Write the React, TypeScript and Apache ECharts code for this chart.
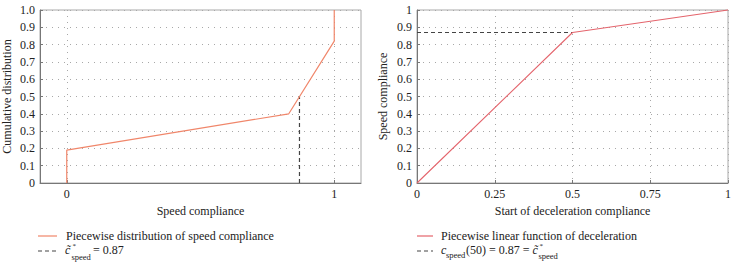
import React, { useEffect, useRef } from "react";
import * as echarts from "echarts";

// ---- data ----
const leftCurve: [number, number][] = [
  [0, 0],
  [0, 0.19],
  [0.83, 0.4],
  [1, 0.82],
  [1, 1],
];
const leftThreshold: [number, number][] = [
  [0.87, 0],
  [0.87, 0.5],
];
const leftXTicks = [0, 1];

const rightCurve: [number, number][] = [
  [0, 0],
  [0.5, 0.87],
  [1, 1],
];
const rightThreshold: [number, number][] = [
  [0, 0.87],
  [0.5, 0.87],
];

const leftLegend1 = "Piecewise distribution of speed compliance";
const leftLegend2 = "= 0.87";
const rightLegend1 = "Piecewise linear function of deceleration";
const rightLegend2 = "(50) = 0.87 = ";

const FONT = "'Liberation Serif', 'Times New Roman', serif";
const LEFT_COLOR = "#f0866a";
const RIGHT_COLOR = "#e4646c";
const DASH_COLOR = "#444";
const GRID_COLOR = "#a8a8a8";
const AXIS_COLOR = "#777";

export default function App() {
  const ref = useRef<HTMLDivElement>(null);

  useEffect(() => {
    if (!ref.current) return;
    const chart = echarts.init(ref.current, undefined, { renderer: "svg" });

    const labelStyle = { color: "#222", fontFamily: FONT, fontSize: 12 };
    const nameStyle = { color: "#222", fontFamily: FONT, fontSize: 12 };
    const split = { show: true, lineStyle: { type: [1, 5] as any, color: GRID_COLOR, width: 1 } };
    const axisLine = { show: true, onZero: false, lineStyle: { color: AXIS_COLOR, width: 1 } };
    const tick = { show: true, inside: true, length: 3, lineStyle: { color: AXIS_COLOR } };

    const txt = (x: number, y: number, text: string, size = 12, italic = false) => ({
      type: "text",
      x,
      y,
      style: {
        text,
        fill: "#222",
        font: `${italic ? "italic " : ""}${size}px ${FONT}`,
        verticalAlign: "middle",
        align: "left",
      },
    });

    const option: any = {
      animation: false,
      grid: [
        { left: 38, top: 10, width: 323, height: 173, show: true, borderColor: GRID_COLOR, borderWidth: 1, backgroundColor: "transparent" },
        { left: 417, top: 10, width: 314, height: 173, show: true, borderColor: GRID_COLOR, borderWidth: 1, backgroundColor: "transparent" },
      ],
      xAxis: [
        {
          gridIndex: 0,
          type: "value",
          min: -0.1,
          max: 1.1,
          name: "Speed compliance",
          nameLocation: "middle",
          nameGap: 21,
          nameTextStyle: nameStyle,
          axisLine,
          axisTick: { ...tick, customValues: leftXTicks },
          axisLabel: { ...labelStyle, margin: 5, customValues: leftXTicks, formatter: (v: number) => String(v) },
          splitLine: split,
        },
        {
          gridIndex: 1,
          type: "value",
          min: 0,
          max: 1,
          interval: 0.25,
          name: "Start of deceleration compliance",
          nameLocation: "middle",
          nameGap: 21,
          nameTextStyle: nameStyle,
          axisLine,
          axisTick: tick,
          axisLabel: { ...labelStyle, margin: 5 },
          splitLine: split,
        },
      ],
      yAxis: [
        {
          gridIndex: 0,
          type: "value",
          min: 0,
          max: 1,
          interval: 0.1,
          name: "Cumulative distribution",
          nameLocation: "middle",
          nameGap: 27,
          nameTextStyle: nameStyle,
          axisLine,
          axisTick: tick,
          axisLabel: {
            ...labelStyle,
            margin: 5,
            formatter: (v: number) => (Math.abs(v) < 1e-9 ? "0" : v.toFixed(1)),
          },
          splitLine: split,
        },
        {
          gridIndex: 1,
          type: "value",
          min: 0,
          max: 1,
          interval: 0.1,
          name: "Speed compliance",
          nameLocation: "middle",
          nameGap: 28,
          nameTextStyle: nameStyle,
          axisLine,
          axisTick: tick,
          axisLabel: {
            ...labelStyle,
            margin: 5,
            formatter: (v: number) =>
              Math.abs(v) < 1e-9 ? "0" : Math.abs(v - 1) < 1e-9 ? "1" : v.toFixed(1),
          },
          splitLine: split,
        },
      ],
      series: [
        {
          type: "line",
          xAxisIndex: 0,
          yAxisIndex: 0,
          data: leftCurve,
          showSymbol: false,
          lineStyle: { color: LEFT_COLOR, width: 1.2 },
          clip: false,
          z: 3,
        },
        {
          type: "line",
          xAxisIndex: 0,
          yAxisIndex: 0,
          data: leftThreshold,
          showSymbol: false,
          lineStyle: { color: DASH_COLOR, width: 1.2, type: [4, 3] },
          z: 2,
        },
        {
          type: "line",
          xAxisIndex: 1,
          yAxisIndex: 1,
          data: rightCurve,
          showSymbol: false,
          lineStyle: { color: RIGHT_COLOR, width: 1.1 },
          clip: false,
          z: 3,
        },
        {
          type: "line",
          xAxisIndex: 1,
          yAxisIndex: 1,
          data: rightThreshold,
          showSymbol: false,
          lineStyle: { color: DASH_COLOR, width: 1.2, type: [4, 3] },
          z: 2,
        },
      ],
      graphic: [
        // left legend
        { type: "line", shape: { x1: 38, y1: 236, x2: 57, y2: 236 }, style: { stroke: LEFT_COLOR, lineWidth: 1.2 } },
        txt(66, 236, leftLegend1),
        { type: "line", shape: { x1: 38, y1: 251, x2: 57, y2: 251 }, style: { stroke: DASH_COLOR, lineWidth: 1.2, lineDash: [4, 3] } },
        txt(65, 250, "c\u0303", 12, true),
        txt(72.5, 246, "*", 7),
        txt(71.5, 256.5, "speed", 8.5),
        txt(93, 250, leftLegend2),
        // right legend
        { type: "line", shape: { x1: 417, y1: 236, x2: 433, y2: 236 }, style: { stroke: RIGHT_COLOR, lineWidth: 1.2 } },
        txt(441, 236, rightLegend1),
        { type: "line", shape: { x1: 417, y1: 251, x2: 433, y2: 251 }, style: { stroke: DASH_COLOR, lineWidth: 1.2, lineDash: [4, 3] } },
        txt(441, 250, "c", 12, true),
        txt(446, 254.5, "speed", 8.5),
        txt(466, 250, rightLegend2),
        txt(532.5, 250, "c\u0303", 12, true),
        txt(539.5, 246, "*", 7),
        txt(538.5, 256, "speed", 8.5),
      ],
    };

    chart.setOption(option);
    return () => chart.dispose();
  }, []);

  return <div ref={ref} style={{ width: 734, height: 265, position: "absolute", left: 0, top: 0 }} />;
}
